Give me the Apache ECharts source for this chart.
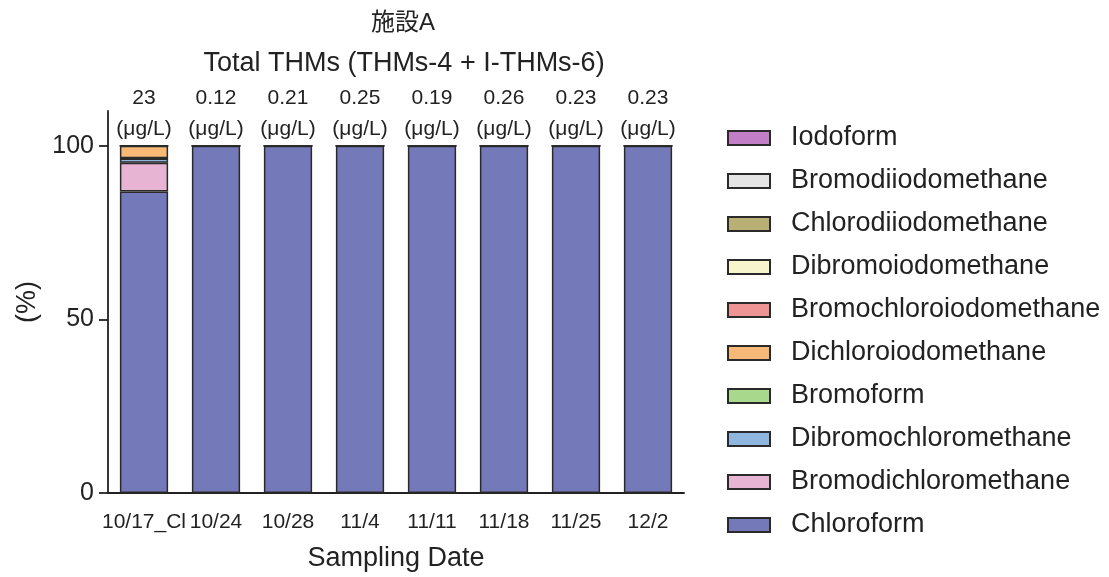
<!DOCTYPE html>
<html>
<head>
<meta charset="utf-8">
<script src="https://cdn.jsdelivr.net/npm/echarts@6/dist/echarts.min.js"></script>
<style>
  html, body { margin: 0; padding: 0; background: #fff; }
  #chart { width: 1109px; height: 577px; }
</style>
</head>
<body>
<div id="chart"></div>
<script>
// Sampling dates and total THM concentration (μg/L) per sample
const categories = ['10/17_Cl', '10/24', '10/28', '11/4', '11/11', '11/18', '11/25', '12/2'];
const totals = ['23', '0.12', '0.21', '0.25', '0.19', '0.26', '0.23', '0.23'];

// Composition (%) of each species, bottom to top of the stack
const chloroform             = [86.8, 100, 100, 100, 100, 100, 100, 100];
const bromodichloromethane   = [8.3, 0, 0, 0, 0, 0, 0, 0];
const dibromochloromethane   = [1.2, 0, 0, 0, 0, 0, 0, 0];
const bromoform              = [0.1, 0, 0, 0, 0, 0, 0, 0];
const dichloroiodomethane    = [3.6, 0, 0, 0, 0, 0, 0, 0];
const bromochloroiodomethane = [0, 0, 0, 0, 0, 0, 0, 0];
const dibromoiodomethane     = [0, 0, 0, 0, 0, 0, 0, 0];
const chlorodiiodomethane    = [0, 0, 0, 0, 0, 0, 0, 0];
const bromodiiodomethane     = [0, 0, 0, 0, 0, 0, 0, 0];
const iodoform               = [0, 0, 0, 0, 0, 0, 0, 0];

const yTicks = [0, 50, 100];

const FONT = '"Liberation Sans", Arial, "Noto Sans CJK JP", sans-serif';
const INK = '#222';

const species = [
  { name: 'Chloroform',             data: chloroform,             color: '#7479b9' },
  { name: 'Bromodichloromethane',   data: bromodichloromethane,   color: '#e8b4d4' },
  { name: 'Dibromochloromethane',   data: dibromochloromethane,   color: '#8fb6de' },
  { name: 'Bromoform',              data: bromoform,              color: '#a8d88c' },
  { name: 'Dichloroiodomethane',    data: dichloroiodomethane,    color: '#f7b977' },
  { name: 'Bromochloroiodomethane', data: bromochloroiodomethane, color: '#ee9494' },
  { name: 'Dibromoiodomethane',     data: dibromoiodomethane,     color: '#f6f5cc' },
  { name: 'Chlorodiiodomethane',    data: chlorodiiodomethane,    color: '#b8b074' },
  { name: 'Bromodiiodomethane',     data: bromodiiodomethane,     color: '#e4e4e4' },
  { name: 'Iodoform',               data: iodoform,               color: '#c27fc8' }
];

const series = species.map((s, i) => {
  const item = {
    name: s.name,
    type: 'bar',
    stack: 'total',
    barCategoryGap: '33%',
    data: s.data,
    itemStyle: { color: s.color, borderColor: '#2a2a2a', borderWidth: 1.5 },
    emphasis: { disabled: true }
  };
  if (i === species.length - 1) {
    // total concentration printed above each stacked bar
    item.label = {
      show: true,
      position: 'top',
      distance: 0,
      formatter: p => totals[p.dataIndex] + '\n(μg/L)',
      fontFamily: FONT,
      fontSize: 21,
      lineHeight: 31,
      color: INK
    };
  }
  return item;
});

const chart = echarts.init(document.getElementById('chart'));
chart.setOption({
  backgroundColor: '#fff',
  animation: false,
  title: [
    { text: '施設A', left: 398, top: 6, textAlign: 'center',
      textStyle: { fontFamily: FONT, fontSize: 24, fontWeight: 'normal', color: INK } },
    { text: 'Total THMs (THMs-4 + I-THMs-6)', left: 399, top: 45, textAlign: 'center',
      textStyle: { fontFamily: FONT, fontSize: 27, fontWeight: 'normal', color: INK } }
  ],
  legend: {
    orient: 'vertical',
    left: 727,
    top: 123,
    padding: 0,
    itemWidth: 42,
    itemHeight: 14,
    itemGap: 13,
    icon: 'rect',
    data: species.map(s => s.name).reverse(),
    textStyle: { fontFamily: FONT, fontSize: 27, color: INK, lineHeight: 30, padding: [0, 0, 0, 16] }
  },
  grid: { left: 108, right: 425, top: 111, bottom: 82, containLabel: false },
  xAxis: {
    type: 'category',
    data: categories,
    name: 'Sampling Date',
    nameLocation: 'middle',
    nameGap: 52,
    nameTextStyle: { fontFamily: FONT, fontSize: 27, color: INK },
    axisLine: { lineStyle: { color: INK, width: 1.8 } },
    axisTick: { alignWithLabel: true, length: 9, lineStyle: { color: INK, width: 1.8 } },
    axisLabel: { fontFamily: FONT, fontSize: 21, color: INK, margin: 19, interval: 0 }
  },
  yAxis: {
    type: 'value',
    min: 0,
    max: 110,
    interval: 50,
    name: '(%)',
    nameLocation: 'middle',
    nameGap: 65,
    nameRotate: 90,
    nameTextStyle: { fontFamily: FONT, fontSize: 27, color: INK },
    axisLine: { show: true, lineStyle: { color: INK, width: 1.8 } },
    axisTick: { show: true, length: 9, customValues: yTicks, lineStyle: { color: INK, width: 1.8 } },
    axisLabel: { fontFamily: FONT, fontSize: 25, color: INK, margin: 14, customValues: yTicks },
    splitLine: { show: false }
  },
  series: series
});
</script>
</body>
</html>
